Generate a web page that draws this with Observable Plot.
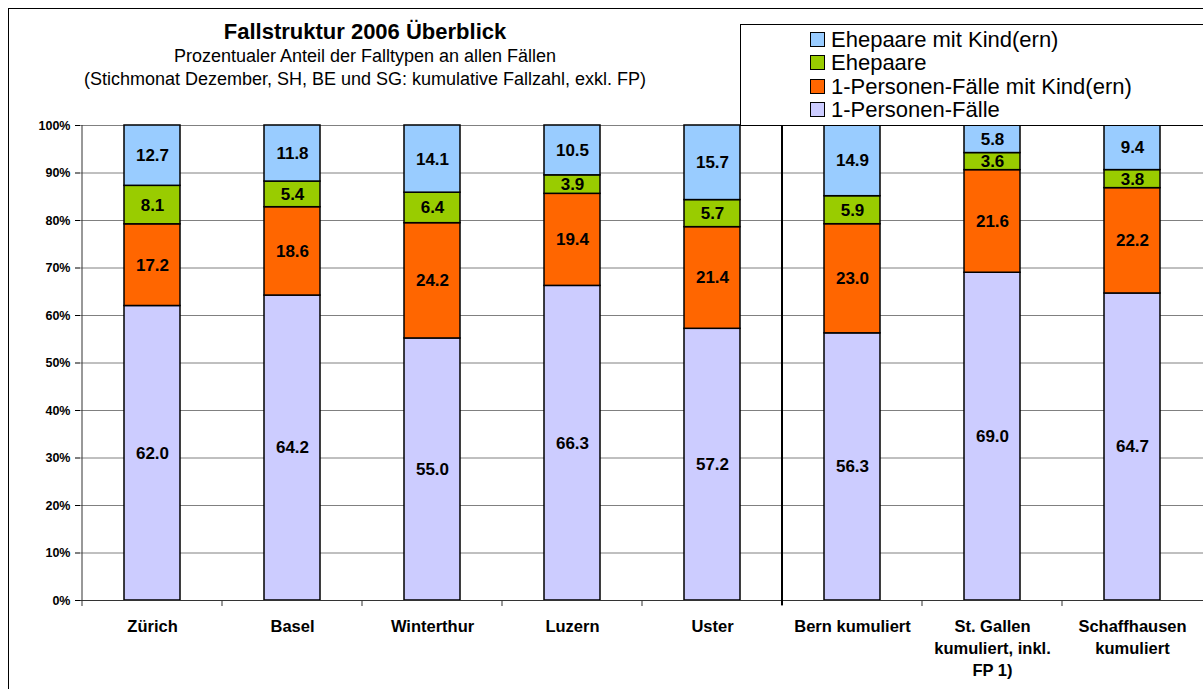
<!DOCTYPE html>
<html>
<head>
<meta charset="utf-8">
<script src="https://cdn.jsdelivr.net/npm/d3@7"></script>
<script src="https://cdn.jsdelivr.net/npm/@observablehq/plot@0.6"></script>
<style>
  html, body { margin: 0; padding: 0; background: #fff; }
  body { font-family: "Liberation Sans", Arial, sans-serif; color: #000; }
  #wrap { position: relative; width: 1203px; height: 689px; overflow: hidden; }
  #chart { position: absolute; left: 0; top: 0; }
  #frame { position: absolute; left: 8px; top: 8px; width: 1400px; height: 900px;
           border-left: 1px solid #000; border-top: 1px solid #000; pointer-events: none; }
  .t { position: absolute; left: 0; width: 730px; text-align: center; white-space: nowrap; }
  #title { top: 20px; font-size: 22px; line-height: 24px; font-weight: bold; }
  #sub1 { top: 45px; font-size: 18px; line-height: 22px; }
  #sub2 { top: 68px; font-size: 18px; line-height: 22px; }
  #legend { position: absolute; left: 740px; top: 24px; width: 600px; height: 100px;
            border: 1px solid #000; background: #fff; }
  .li { position: absolute; left: 69px; height: 24px; font-size: 22px; line-height: 24px; white-space: nowrap; }
  .sw { display: inline-block; width: 13px; height: 13px; border: 1px solid #000; margin-right: 6px; vertical-align: 0px; }
</style>
</head>
<body>
<div id="wrap">
  <div id="chart"></div>
  <div id="frame"></div>
  <div class="t" id="title">Fallstruktur 2006 Überblick</div>
  <div class="t" id="sub1">Prozentualer Anteil der Falltypen an allen Fällen</div>
  <div class="t" id="sub2">(Stichmonat Dezember, SH, BE und SG: kumulative Fallzahl, exkl. FP)</div>
  <div id="legend"></div>
</div>
<script>
// ---- data ----
const cities = ["Zürich", "Basel", "Winterthur", "Luzern", "Uster",
  "Bern kumuliert", "St. Gallen kumuliert, inkl. FP 1)", "Schaffhausen kumuliert"];
const cityLabels = ["Zürich", "Basel", "Winterthur", "Luzern", "Uster",
  "Bern kumuliert", "St. Gallen\nkumuliert, inkl.\nFP 1)", "Schaffhausen\nkumuliert"];
const series = ["1-Personen-Fälle", "1-Personen-Fälle mit Kind(ern)", "Ehepaare", "Ehepaare mit Kind(ern)"];
const seriesColors = ["#CCCCFF", "#FF6600", "#99CC00", "#99CCFF"];
const einPersonen     = [62.0, 64.2, 55.0, 66.3, 57.2, 56.3, 69.0, 64.7];
const einPersonenKind = [17.2, 18.6, 24.2, 19.4, 21.4, 23.0, 21.6, 22.2];
const ehepaare        = [ 8.1,  5.4,  6.4,  3.9,  5.7,  5.9,  3.6,  3.8];
const ehepaareKind    = [12.7, 11.8, 14.1, 10.5, 15.7, 14.9,  5.8,  9.4];
const yTicks = [0, 0.1, 0.2, 0.3, 0.4, 0.5, 0.6, 0.7, 0.8, 0.9, 1.0];
const yTickLabels = ["0%", "10%", "20%", "30%", "40%", "50%", "60%", "70%", "80%", "90%", "100%"];

const valuesBySeries = [einPersonen, einPersonenKind, ehepaare, ehepaareKind];
const rows = [];
cities.forEach((c, i) => series.forEach((s, j) => rows.push({city: c, series: s, value: valuesBySeries[j][i]})));
const labelOf = new Map(cities.map((c, i) => [c, cityLabels[i]]));

// ---- legend (top to bottom: reverse stacking order) ----
const legend = document.getElementById("legend");
[3, 2, 1, 0].forEach((j, k) => {
  const d = document.createElement("div");
  d.className = "li";
  d.style.top = (3 + k * 23.3) + "px";
  d.innerHTML = `<span class="sw" style="background:${seriesColors[j]}"></span>${series[j]}`;
  legend.appendChild(d);
});

// ---- chart ----
const plot = Plot.plot({
  width: 1203,
  height: 689,
  marginLeft: 80,
  marginRight: 0,
  marginTop: 125,
  marginBottom: 89,
  style: {fontFamily: "'Liberation Sans', Arial, sans-serif", color: "#000", background: "transparent", overflow: "visible"},
  x: {domain: cities, paddingInner: 0.6, paddingOuter: 0.3, label: null},
  y: {domain: [0, 1], label: null},
  color: {domain: series, range: seriesColors},
  marks: [
    Plot.ruleY(yTicks, {stroke: "#808080", strokeWidth: 1}),
    Plot.barY(rows, Plot.stackY({offset: "normalize", order: series, x: "city", y: "value", fill: "series", stroke: "#000", strokeWidth: 1.5})),
    Plot.text(rows, Plot.stackY({offset: "normalize", order: series, x: "city", y: "value", z: "series",
      text: d => d.value.toFixed(1), fontSize: 17, fontWeight: "bold", fill: "#000"})),
    Plot.ruleY([0], {stroke: "#333", strokeWidth: 1}),
    Plot.axisY({ticks: yTicks, tickFormat: (d, i) => yTickLabels[i], tickSize: 5, tickPadding: 5,
      fontSize: 12.5, fontWeight: "bold", label: null}),
    Plot.axisX({tickSize: 0, tickPadding: 16, tickFormat: d => labelOf.get(d), fontSize: 16.5,
      fontWeight: "bold", lineHeight: 1.33, label: null})
  ]
});
document.getElementById("chart").appendChild(plot);

// boundary ticks, y axis line and separator, placed with the plot's own x scale
const xs = plot.scale("x");
const ys = plot.scale("y");
const step = xs.apply(cities[1]) - xs.apply(cities[0]);
const bw = xs.bandwidth;
const edge = c => xs.apply(c) - (step - bw) / 2;
const y0 = ys.apply(0), y1 = ys.apply(1);
const svg = d3.select(plot);
const g = svg.append("g");
const bounds = cities.map(edge);
g.selectAll("line.tk").data(bounds).join("line")
  .attr("x1", d => d).attr("x2", d => d).attr("y1", y0).attr("y2", y0 + 6)
  .attr("stroke", "#333").attr("stroke-width", 1);
g.append("line").attr("x1", bounds[0]).attr("x2", bounds[0]).attr("y1", y1).attr("y2", y0)
  .attr("stroke", "#333").attr("stroke-width", 1);
g.append("line").attr("x1", bounds[5]).attr("x2", bounds[5]).attr("y1", y1).attr("y2", y0 + 5)
  .attr("stroke", "#000").attr("stroke-width", 2);
</script>
</body>
</html>
